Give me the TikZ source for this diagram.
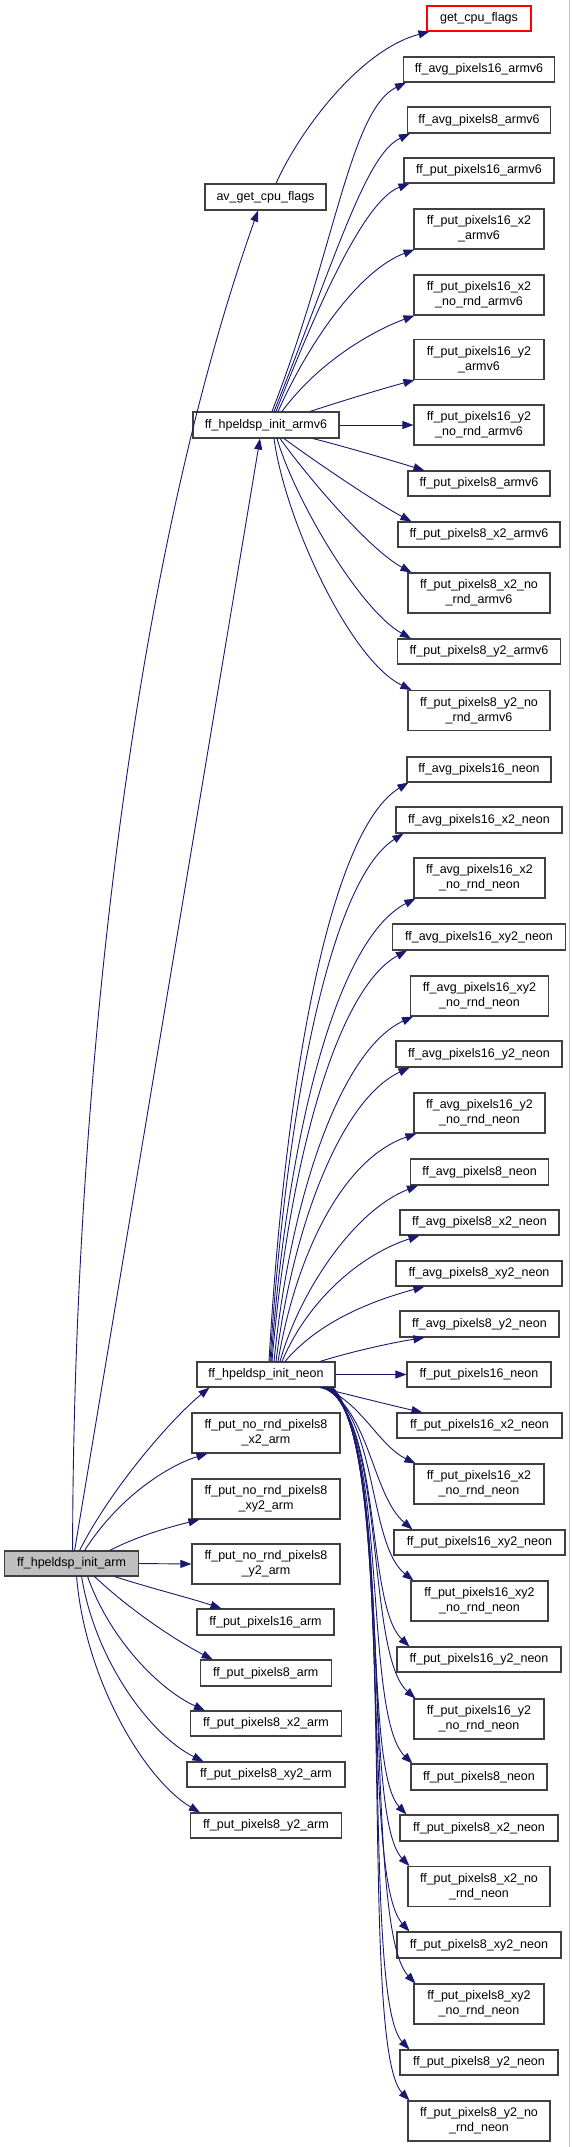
\documentclass[tikz,border=0pt]{standalone}
\usepackage{fontspec}
\setmainfont{Liberation Sans}
\usetikzlibrary{arrows.meta}
\definecolor{edgecol}{HTML}{191970}
\definecolor{boxline}{HTML}{404040}
\definecolor{rootfill}{HTML}{BFBFBF}
\newcommand\gfont{\fontsize{12.5}{15}\selectfont}
\newcommand\bx[6]{\node[box,minimum width=#1pt,minimum height=#2pt,#3] (#4) at (#5) {#6};}
\begin{document}
\begin{tikzpicture}[x=1pt,y=1pt,
  box/.style={draw=boxline, line width=1.1pt, fill=white, inner sep=0pt, align=center, font=\gfont},
  edge/.style={draw=edgecol, line width=0.9pt, -{Triangle[length=11pt,width=8pt]}}]
\useasboundingbox[fill=white] (0,0) rectangle (571,-2147);
\draw[draw=black!25, line width=1pt] (569.5,0) -- (569.5,-2147);
% armv6 column
\bx{104}{25}{draw=red}{gcf}{479,-18.5}{get\_cpu\_flags}
\bx{151}{25}{}{a16v6}{479,-69.5}{ff\_avg\_pixels16\_armv6}
\bx{143}{26}{}{a8v6}{479,-120}{ff\_avg\_pixels8\_armv6}
\bx{150}{25}{}{p16v6}{479,-170.5}{ff\_put\_pixels16\_armv6}
\bx{121}{26}{}{avgcf}{265.5,-197}{av\_get\_cpu\_flags}
\bx{130}{40}{}{p16x2v6}{479,-229}{ff\_put\_pixels16\_x2\\\_armv6}
\bx{130}{40}{}{p16x2nv6}{479,-295}{ff\_put\_pixels16\_x2\\\_no\_rnd\_armv6}
\bx{130}{40}{}{p16y2v6}{479,-359.5}{ff\_put\_pixels16\_y2\\\_armv6}
\bx{146}{26}{}{v6}{266,-425}{ff\_hpeldsp\_init\_armv6}
\bx{130}{40}{}{p16y2nv6}{479,-425}{ff\_put\_pixels16\_y2\\\_no\_rnd\_armv6}
\bx{142}{25}{}{p8v6}{479,-483.5}{ff\_put\_pixels8\_armv6}
\bx{162}{25}{}{p8x2v6}{479,-534.5}{ff\_put\_pixels8\_x2\_armv6}
\bx{142}{40}{}{p8x2nv6}{479,-593}{ff\_put\_pixels8\_x2\_no\\\_rnd\_armv6}
\bx{163}{25}{}{p8y2v6}{479,-651.5}{ff\_put\_pixels8\_y2\_armv6}
\bx{142}{40}{}{p8y2nv6}{479,-710.5}{ff\_put\_pixels8\_y2\_no\\\_rnd\_armv6}
% neon column
\bx{144}{25}{}{a16n}{479,-769.5}{ff\_avg\_pixels16\_neon}
\bx{166}{26}{}{a16x2n}{479,-820}{ff\_avg\_pixels16\_x2\_neon}
\bx{131}{40}{}{a16x2nn}{479.5,-878}{ff\_avg\_pixels16\_x2\\\_no\_rnd\_neon}
\bx{173}{26}{}{a16xy2n}{479,-937}{ff\_avg\_pixels16\_xy2\_neon}
\bx{138}{40}{}{a16xy2nn}{479.5,-996}{ff\_avg\_pixels16\_xy2\\\_no\_rnd\_neon}
\bx{166}{26}{}{a16y2n}{479,-1054}{ff\_avg\_pixels16\_y2\_neon}
\bx{131}{40}{}{a16y2nn}{479.5,-1113}{ff\_avg\_pixels16\_y2\\\_no\_rnd\_neon}
\bx{138}{26}{}{a8n}{479.5,-1172}{ff\_avg\_pixels8\_neon}
\bx{159}{25}{}{a8x2n}{479.5,-1222.5}{ff\_avg\_pixels8\_x2\_neon}
\bx{166}{25}{}{a8xy2n}{479,-1273.5}{ff\_avg\_pixels8\_xy2\_neon}
\bx{159}{26}{}{a8y2n}{479.5,-1324}{ff\_avg\_pixels8\_y2\_neon}
\bx{138}{25}{}{neon}{266,-1374.5}{ff\_hpeldsp\_init\_neon}
\bx{144}{25}{}{p16n}{479,-1374.5}{ff\_put\_pixels16\_neon}
\bx{165}{25}{}{p16x2n}{479.5,-1425.5}{ff\_put\_pixels16\_x2\_neon}
\bx{148}{40}{}{nrx2}{266,-1433}{ff\_put\_no\_rnd\_pixels8\\\_x2\_arm}
\bx{130}{40}{}{p16x2nn}{479,-1484}{ff\_put\_pixels16\_x2\\\_no\_rnd\_neon}
\bx{148}{40}{}{nrxy2}{266,-1499}{ff\_put\_no\_rnd\_pixels8\\\_xy2\_arm}
\bx{171}{25}{}{p16xy2n}{479.5,-1542.5}{ff\_put\_pixels16\_xy2\_neon}
\bx{134}{25}{fill=rootfill}{root}{71.6,-1563.5}{ff\_hpeldsp\_init\_arm}
\bx{148}{40}{}{nry2}{266,-1564}{ff\_put\_no\_rnd\_pixels8\\\_y2\_arm}
\bx{137}{40}{}{p16xy2nn}{479.5,-1601}{ff\_put\_pixels16\_xy2\\\_no\_rnd\_neon}
\bx{137}{26}{}{p16a}{265.5,-1622}{ff\_put\_pixels16\_arm}
\bx{164}{25}{}{p16y2n}{479,-1659.5}{ff\_put\_pixels16\_y2\_neon}
\bx{131}{26}{}{p8a}{265.7,-1673}{ff\_put\_pixels8\_arm}
\bx{130}{40}{}{p16y2nn}{479,-1719}{ff\_put\_pixels16\_y2\\\_no\_rnd\_neon}
\bx{151}{25}{}{p8x2a}{266,-1723.5}{ff\_put\_pixels8\_x2\_arm}
\bx{136}{26}{}{p8n}{479,-1777}{ff\_put\_pixels8\_neon}
\bx{158}{25}{}{p8xy2a}{266,-1774.5}{ff\_put\_pixels8\_xy2\_arm}
\bx{151}{25}{}{p8y2a}{266,-1825.5}{ff\_put\_pixels8\_y2\_arm}
\bx{158}{26}{}{p8x2n}{479,-1828}{ff\_put\_pixels8\_x2\_neon}
\bx{142}{40}{}{p8x2nn}{479,-1886.5}{ff\_put\_pixels8\_x2\_no\\\_rnd\_neon}
\bx{164}{26}{}{p8xy2n}{479,-1945}{ff\_put\_pixels8\_xy2\_neon}
\bx{130}{40}{}{p8xy2nn}{479,-2004}{ff\_put\_pixels8\_xy2\\\_no\_rnd\_neon}
\bx{158}{25}{}{p8y2n}{479,-2062.5}{ff\_put\_pixels8\_y2\_neon}
\bx{142}{40}{}{p8y2nn}{479,-2121}{ff\_put\_pixels8\_y2\_no\\\_rnd\_neon}
% root edges
\draw[edge] ([xshift=1pt]root.north) .. controls (73,-1150) and (120,-600) .. ([xshift=-7.5pt]avgcf.south);
\draw[edge] ([xshift=3pt]root.north) -- ([xshift=-6pt]v6.south);
\draw[edge] ([xshift=8pt]root.north) .. controls (110,-1490) and (170,-1420) .. ([xshift=13pt]neon.south west);
\draw[edge] ([xshift=13pt]root.north) .. controls (120,-1495) and (170,-1465) .. ([xshift=16pt]nrx2.south west);
\draw[edge] ([xshift=38pt]root.north) .. controls (140,-1535) and (170,-1527) .. ([xshift=8pt]nrxy2.south west);
\draw[edge] (root.east) -- (nry2.west);
\draw[edge] ([xshift=43pt]root.south) .. controls (150,-1588) and (190,-1598) .. ([xshift=25pt]p16a.north west);
\draw[edge] ([xshift=23pt]root.south) .. controls (130,-1610) and (175,-1640) .. ([xshift=13pt]p8a.north west);
\draw[edge] ([xshift=16pt]root.south) .. controls (110,-1640) and (160,-1690) .. ([xshift=15pt]p8x2a.north west);
\draw[edge] ([xshift=10pt]root.south) .. controls (95,-1660) and (150,-1735) .. ([xshift=17pt]p8xy2a.north west);
\draw[edge] ([xshift=5pt]root.south) .. controls (85,-1680) and (145,-1780) .. ([xshift=10pt]p8y2a.north west);
\draw[edge] ([xshift=10.5pt]avgcf.north) .. controls (300,-130) and (360,-50) .. ([xshift=3pt]gcf.south west);
% armv6 edges
\draw[edge] ([xshift=6pt]v6.north) .. controls (335,-250) and (350,-110) .. ([xshift=3pt]a16v6.south west);
\draw[edge] ([xshift=8pt]v6.north) .. controls (335,-260) and (365,-155) .. ([xshift=3pt]a8v6.south west);
\draw[edge] ([xshift=10pt]v6.north) .. controls (320,-300) and (365,-200) .. ([xshift=6pt]p16v6.south west);
\draw[edge] ([xshift=12pt]v6.north) .. controls (310,-340) and (360,-270) .. ([xshift=1pt]p16x2v6.south west);
\draw[edge] ([xshift=16pt]v6.north) .. controls (320,-360) and (375,-330) .. ([xshift=1pt]p16x2nv6.south west);
\draw[edge] ([xshift=44pt]v6.north) .. controls (345,-400) and (385,-388) .. ([xshift=1pt]p16y2v6.south west);
\draw[edge] (v6.east) -- (p16y2nv6.west);
\draw[edge] ([xshift=47pt]v6.south) .. controls (350,-448) and (390,-460) .. ([xshift=17pt]p8v6.north west);
\draw[edge] ([xshift=18pt]v6.south) .. controls (320,-465) and (380,-505) .. ([xshift=14pt]p8x2v6.north west);
\draw[edge] ([xshift=14pt]v6.south) .. controls (310,-480) and (370,-550) .. ([xshift=4pt]p8x2nv6.north west);
\draw[edge] ([xshift=11pt]v6.south) .. controls (295,-500) and (360,-610) .. ([xshift=14pt]p8y2v6.north west);
\draw[edge] ([xshift=8pt]v6.south) .. controls (285,-520) and (350,-660) .. ([xshift=4pt]p8y2nv6.north west);
% neon edges up
\draw[edge] ([xshift=3pt]neon.north) .. controls (285,-1080) and (330,-830) .. ([xshift=2pt]a16n.south west);
\draw[edge] ([xshift=4pt]neon.north) .. controls (286,-1110) and (330,-880) .. ([xshift=8pt]a16x2n.south west);
\draw[edge] ([xshift=5pt]neon.north) .. controls (287,-1140) and (335,-940) .. ([xshift=2pt]a16x2nn.south west);
\draw[edge] ([xshift=6pt]neon.north) .. controls (288,-1170) and (335,-990) .. ([xshift=15pt]a16xy2n.south west);
\draw[edge] ([xshift=8pt]neon.north) .. controls (290,-1200) and (340,-1050) .. ([xshift=3pt]a16xy2nn.south west);
\draw[edge] ([xshift=10pt]neon.north) .. controls (292,-1230) and (340,-1100) .. ([xshift=14pt]a16y2n.south west);
\draw[edge] ([xshift=12pt]neon.north) .. controls (295,-1260) and (340,-1160) .. ([xshift=3pt]a16y2nn.south west);
\draw[edge] ([xshift=14pt]neon.north) .. controls (300,-1290) and (355,-1210) .. ([xshift=8pt]a8n.south west);
\draw[edge] ([xshift=16pt]neon.north) .. controls (308,-1300) and (360,-1255) .. ([xshift=20pt]a8x2n.south west);
\draw[edge] ([xshift=19pt]neon.north) .. controls (320,-1320) and (375,-1300) .. ([xshift=29pt]a8xy2n.south west);
\draw[edge] ([xshift=54pt]neon.north) .. controls (350,-1352) and (390,-1343) .. ([xshift=25pt]a8y2n.south west);
\draw[edge] (neon.east) -- (p16n.west);
% neon edges down
\draw[edge] ([xshift=54pt]neon.south) .. controls (350,-1395) and (390,-1405) .. ([xshift=26pt]p16x2n.north west);
\draw[edge] ([xshift=56pt]neon.south) .. controls (360,-1400) and (378,-1445) .. ([xshift=2pt]p16x2nn.north west);
\draw[edge] ([xshift=57pt]neon.south) .. controls (370,-1410) and (372,-1495) .. ([xshift=19pt]p16xy2n.north west);
\draw[edge] ([xshift=58pt]neon.south) .. controls (378,-1415) and (368,-1545) .. ([xshift=3pt]p16xy2nn.north west);
\draw[edge] ([xshift=59pt]neon.south) .. controls (382,-1420) and (366,-1605) .. ([xshift=13pt]p16y2n.north west);
\draw[edge] ([xshift=60pt]neon.south) .. controls (386,-1425) and (366,-1655) .. ([xshift=2pt]p16y2nn.north west);
\draw[edge] ([xshift=61pt]neon.south) .. controls (390,-1430) and (362,-1715) .. ([xshift=2pt]p8n.north west);
\draw[edge] ([xshift=62pt]neon.south) .. controls (392,-1435) and (360,-1765) .. ([xshift=7pt]p8x2n.north west);
\draw[edge] ([xshift=63pt]neon.south) .. controls (394,-1440) and (360,-1815) .. ([xshift=2pt]p8x2nn.north west);
\draw[edge] ([xshift=64pt]neon.south) .. controls (396,-1445) and (358,-1875) .. ([xshift=13pt]p8xy2n.north west);
\draw[edge] ([xshift=65pt]neon.south) .. controls (398,-1450) and (360,-1925) .. ([xshift=2pt]p8xy2nn.north west);
\draw[edge] ([xshift=66pt]neon.south) .. controls (400,-1455) and (358,-1995) .. ([xshift=10pt]p8y2n.north west);
\draw[edge] ([xshift=67pt]neon.south) .. controls (402,-1460) and (356,-2045) .. ([xshift=2pt]p8y2nn.north west);
\end{tikzpicture}
\end{document}
